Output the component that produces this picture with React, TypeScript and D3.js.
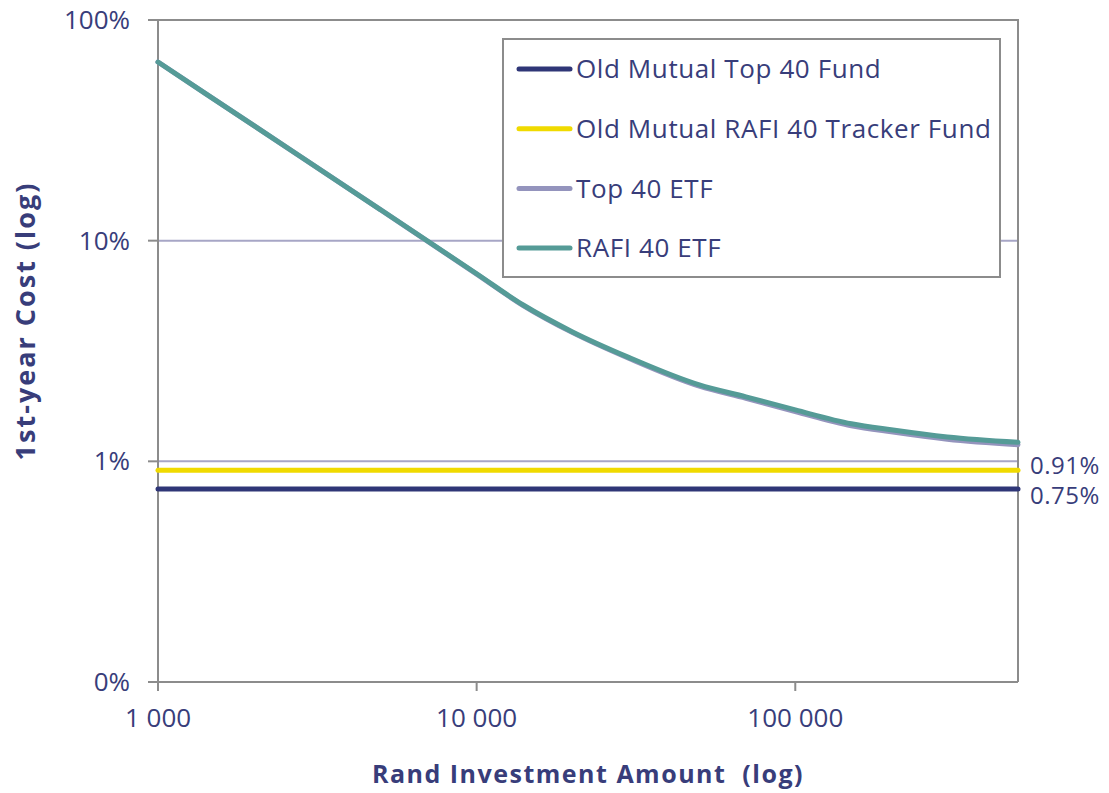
import * as React from "react";
import * as d3 from "d3";

// investment amounts (rand) and 1st-year cost in percent
const amounts: number[] = [1000, 2000, 5000, 10000, 14000, 20000, 30000, 50000, 70000, 100000, 150000, 200000, 300000, 500000];
const rafiEtfCost: number[] = [64.5, 33.2, 13.8, 7.08, 5.11, 3.86, 2.96, 2.22, 1.96, 1.71, 1.48, 1.39, 1.29, 1.22];
const top40EtfCost: number[] = [64.5, 33.2, 13.8, 7.05, 5.08, 3.83, 2.93, 2.19, 1.93, 1.68, 1.45, 1.36, 1.26, 1.19];
const flatAmounts: number[] = [1000, 500000];
const omTop40Cost: number[] = [0.75, 0.75];
const omRafiCost: number[] = [0.91, 0.91];

const seriesNames: string[] = ["Old Mutual Top 40 Fund", "Old Mutual RAFI 40 Tracker Fund", "Top 40 ETF", "RAFI 40 ETF"];
const seriesColors: string[] = ["#2f3677", "#f0da00", "#9494bd", "#559b97"];

const yTickValues: number[] = [0.1, 1, 10, 100];
const yTickLabels: string[] = ["0%", "1%", "10%", "100%"];
const xTickValues: number[] = [1000, 10000, 100000];
const xTickLabels: string[] = ["1 000", "10 000", "100 000"];

const textColor: string = "#383d7a";
const axisColor: string = "#8c8c8c";
const gridColor: string = "#a7a6c6";
const font: string = "'Open Sans', 'DejaVu Sans', sans-serif";

interface Pt {
    x: number;
    y: number;
}

const App = (): JSX.Element => {
    const ref = React.useRef<SVGSVGElement>(null);

    React.useEffect(() => {
        const svg = d3.select(ref.current);
        svg.selectAll("*").remove();

        const left = 158, right = 1018, top = 20, bottom = 682;
        const x = d3.scaleLog().domain([1000, 500000]).range([left, right]);
        const y = d3.scaleLog().domain([0.1, 100]).range([bottom, top]);

        // gridlines
        svg.append("g").selectAll("line")
            .data([1, 10]).enter().append("line")
            .attr("x1", left).attr("x2", right)
            .attr("y1", (d: number) => y(d)).attr("y2", (d: number) => y(d))
            .attr("stroke", gridColor).attr("stroke-width", 2);

        // frame
        svg.append("path")
            .attr("d", `M${left},${top}H${right}V${bottom}`)
            .attr("fill", "none").attr("stroke", axisColor).attr("stroke-width", 2);

        // y axis
        const yAxis = svg.append("g");
        yAxis.append("line")
            .attr("x1", left).attr("x2", left).attr("y1", top).attr("y2", bottom)
            .attr("stroke", axisColor).attr("stroke-width", 2);
        yAxis.selectAll(".tick").data(yTickValues).enter().append("line")
            .attr("x1", left - 10).attr("x2", left)
            .attr("y1", (d: number) => y(d)).attr("y2", (d: number) => y(d))
            .attr("stroke", axisColor).attr("stroke-width", 2);
        yAxis.selectAll(".lab").data(yTickValues).enter().append("text")
            .attr("x", 130).attr("y", (d: number) => y(d))
            .attr("dy", "0.35em").attr("text-anchor", "end")
            .attr("font-family", font).attr("font-size", 26).attr("fill", textColor)
            .text((d: number, i: number) => yTickLabels[i]);

        // x axis
        const xAxis = svg.append("g");
        xAxis.append("line")
            .attr("x1", left - 10).attr("x2", right).attr("y1", bottom).attr("y2", bottom)
            .attr("stroke", axisColor).attr("stroke-width", 2);
        xAxis.selectAll(".tick").data(xTickValues).enter().append("line")
            .attr("x1", (d: number) => x(d)).attr("x2", (d: number) => x(d))
            .attr("y1", bottom).attr("y2", bottom + 9)
            .attr("stroke", axisColor).attr("stroke-width", 2);
        xAxis.selectAll(".lab").data(xTickValues).enter().append("text")
            .attr("x", (d: number) => x(d)).attr("y", 718)
            .attr("dy", "0.35em").attr("text-anchor", "middle")
            .attr("font-family", font).attr("font-size", 26).attr("fill", textColor)
            .text((d: number, i: number) => xTickLabels[i]);

        // axis titles
        svg.append("text")
            .attr("x", 588).attr("y", 774).attr("dy", "0.35em")
            .attr("text-anchor", "middle").attr("font-family", font)
            .attr("font-size", 25).attr("font-weight", "bold").attr("fill", textColor)
            .attr("letter-spacing", 1.5)
            .attr("xml:space", "preserve")
            .text("Rand Investment Amount  (log)");
        svg.append("text")
            .attr("transform", "translate(26, 321) rotate(-90)").attr("dy", "0.35em")
            .attr("text-anchor", "middle").attr("font-family", font)
            .attr("font-size", 27).attr("font-weight", "bold").attr("fill", textColor)
            .attr("letter-spacing", 2)
            .text("1st-year Cost (log)");

        const line = d3.line<Pt>()
            .x((p: Pt) => x(p.x))
            .y((p: Pt) => y(p.y))
            .curve(d3.curveMonotoneX);

        const toPts = (xs: number[], ys: number[]): Pt[] => xs.map((v: number, i: number) => ({ x: v, y: ys[i] }));
        const series: Pt[][] = [
            toPts(flatAmounts, omTop40Cost),
            toPts(flatAmounts, omRafiCost),
            toPts(amounts, top40EtfCost),
            toPts(amounts, rafiEtfCost)
        ];

        svg.append("g").selectAll("path")
            .data(series).enter().append("path")
            .attr("d", (s: Pt[]) => line(s))
            .attr("fill", "none")
            .attr("stroke", (s: Pt[], i: number) => seriesColors[i])
            .attr("stroke-width", 5)
            .attr("stroke-linecap", "round");

        // end labels for flat funds
        const endLabels = [
            { v: omRafiCost[1], dy: -5 },
            { v: omTop40Cost[1], dy: 7 }
        ];
        svg.append("g").selectAll("text")
            .data(endLabels).enter().append("text")
            .attr("x", 1030).attr("y", (d) => y(d.v) + d.dy)
            .attr("dy", "0.35em").attr("font-family", font)
            .attr("font-size", 24).attr("fill", textColor)
            .attr("letter-spacing", 0.5)
            .text((d) => `${d.v.toFixed(2)}%`);

        // legend
        const lg = svg.append("g");
        lg.append("rect")
            .attr("x", 503).attr("y", 39).attr("width", 497).attr("height", 238)
            .attr("fill", "white").attr("stroke", axisColor).attr("stroke-width", 2);
        const rows = lg.selectAll(".row").data(seriesNames).enter().append("g")
            .attr("transform", (d: string, i: number) => `translate(0, ${69 + i * 59.7})`);
        rows.append("line")
            .attr("x1", 519).attr("x2", 570).attr("y1", 0).attr("y2", 0)
            .attr("stroke", (d: string, i: number) => seriesColors[i])
            .attr("stroke-width", 5).attr("stroke-linecap", "round");
        rows.append("text")
            .attr("x", 576).attr("y", 0).attr("dy", "0.35em")
            .attr("font-family", font).attr("font-size", 26).attr("fill", textColor)
            .attr("letter-spacing", 0.6)
            .text((d: string) => d);
    }, []);

    return (
        <svg ref={ref} width={1109} height={793}
            style={{ position: "absolute", left: 0, top: 0, background: "white" }} />
    );
};

export default App;
